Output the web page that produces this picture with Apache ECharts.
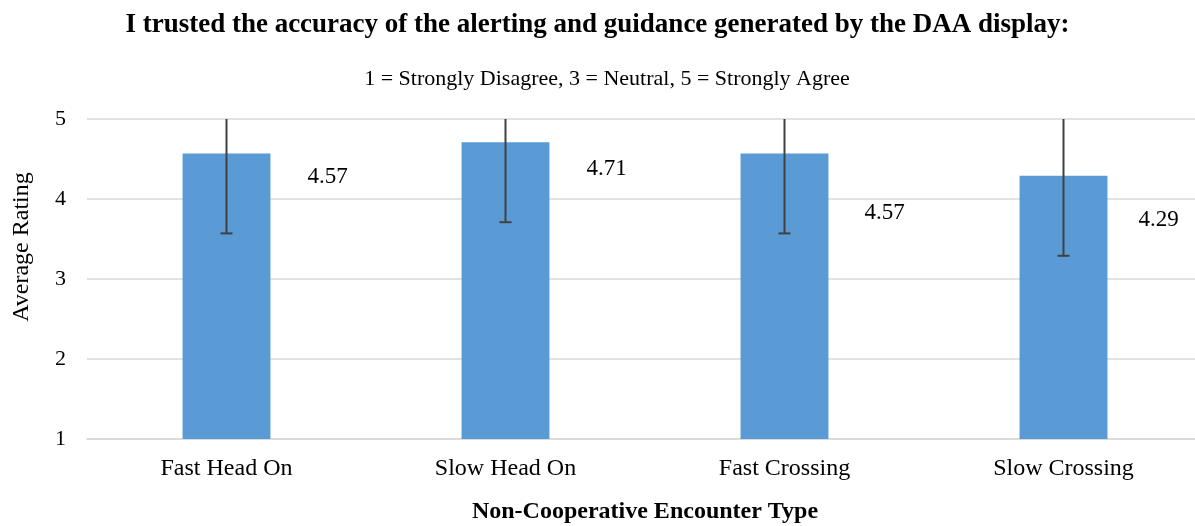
<!DOCTYPE html>
<html>
<head>
<meta charset="utf-8">
<script src="https://cdn.jsdelivr.net/npm/echarts@6/dist/echarts.min.js"></script>
<style>
  html, body { margin: 0; padding: 0; background: #fff; }
  #main { width: 1195px; height: 526px; }
</style>
</head>
<body>
<div id="main"></div>
<script>
// 遭遇类型
var categories = ['Fast Head On', 'Slow Head On', 'Fast Crossing', 'Slow Crossing'];
// 平均评分
var avgRating = [4.57, 4.71, 4.57, 4.29];
// 误差线 (标准差)
var errLow  = [3.57, 3.71, 3.57, 3.29];
var errHigh = [5.57, 5.71, 5.57, 5.29];
var yTicks = [1, 2, 3, 4, 5];

var serif = '"Liberation Serif", "Times New Roman", serif';
var labelShift = [[101, 40], [101, 43], [100, 76], [95, 61]];

var myChart = echarts.init(document.getElementById('main'));

var barData = avgRating.map(function (v, i) {
  return {
    value: v,
    label: { offset: [labelShift[i][0], labelShift[i][1]] }
  };
});

var errData = categories.map(function (c, i) {
  return [i, errLow[i], errHigh[i]];
});

var option = {
  animation: false,
  title: [
    {
      text: 'I trusted the accuracy of the alerting and guidance generated by the DAA display:',
      left: 'center',
      top: 7,
      textStyle: { fontFamily: serif, fontSize: 27, fontWeight: 'bold', color: '#000' }
    },
    {
      text: '1 = Strongly Disagree, 3 = Neutral, 5 = Strongly Agree',
      left: 602,
      top: 63,
      textAlign: 'center',
      textStyle: { fontFamily: serif, fontSize: 22, fontWeight: 'normal', color: '#000' }
    }
  ],
  grid: { left: 87, width: 1116, top: 119, height: 320, outerBoundsMode: 'none' },
  xAxis: {
    type: 'category',
    data: categories,
    axisTick: { show: false },
    axisLine: { lineStyle: { color: '#d9d9d9', width: 1.5 } },
    axisLabel: { fontFamily: serif, fontSize: 24, color: '#000', margin: 18 },
    name: 'Non-Cooperative Encounter Type',
    nameLocation: 'middle',
    nameGap: 61,
    nameTextStyle: { fontFamily: serif, fontSize: 24, fontWeight: 'bold', color: '#000' }
  },
  yAxis: {
    type: 'value',
    min: yTicks[0],
    max: yTicks[yTicks.length - 1],
    interval: 1,
    axisLine: { show: false },
    axisTick: { show: false },
    splitLine: { lineStyle: { color: '#d9d9d9', width: 1.5 } },
    axisLabel: { fontFamily: serif, fontSize: 22, color: '#000', margin: 21 },
    name: 'Average Rating',
    nameLocation: 'middle',
    nameGap: 53,
    nameTextStyle: { fontFamily: serif, fontSize: 24, color: '#000', padding: [0, 0, 0, 64] }
  },
  series: [
    {
      type: 'bar',
      data: barData,
      barWidth: '31.5%',
      itemStyle: { color: '#5b9bd5' },
      label: {
        show: true,
        position: 'top',
        fontFamily: serif,
        fontSize: 23,
        color: '#000',
        formatter: function (p) { return p.value.toFixed(2); }
      }
    },
    {
      type: 'custom',
      data: errData,
      clip: true,
      z: 10,
      renderItem: function (params, api) {
        var x = api.value(0);
        var lo = api.coord([x, api.value(1)]);
        var hi = api.coord([x, api.value(2)]);
        var half = 6;
        var st = { stroke: '#404040', lineWidth: 2 };
        return {
          type: 'group',
          children: [
            { type: 'line', shape: { x1: lo[0], y1: lo[1], x2: hi[0], y2: hi[1] }, style: st },
            { type: 'line', shape: { x1: lo[0] - half, y1: lo[1], x2: lo[0] + half, y2: lo[1] }, style: st },
            { type: 'line', shape: { x1: hi[0] - half, y1: hi[1], x2: hi[0] + half, y2: hi[1] }, style: st }
          ]
        };
      }
    }
  ]
};

myChart.setOption(option);
</script>
</body>
</html>
